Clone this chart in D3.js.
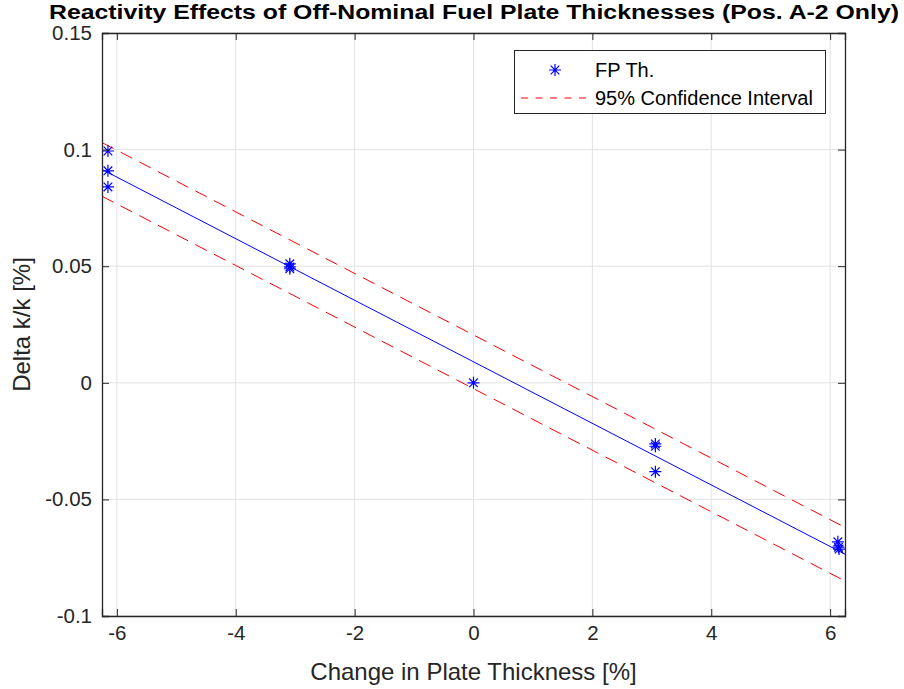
<!DOCTYPE html>
<html><head><meta charset="utf-8">
<script src="https://cdn.jsdelivr.net/npm/d3@7"></script>
<style>body{margin:0;background:#fff}svg{display:block}text{font-family:Arial,"Liberation Sans",Helvetica,sans-serif}</style>
</head><body>
<svg id="c" width="904" height="689"></svg>
<script>
const xTicks = [-6, -4, -2, 0, 2, 4, 6];
const xTickLabels = ["-6", "-4", "-2", "0", "2", "4", "6"];
const yTicks = [-0.1, -0.05, 0, 0.05, 0.1, 0.15];
const yTickLabels = ["-0.1", "-0.05", "0", "0.05", "0.1", "0.15"];
const ptX = [-6.15, -6.15, -6.15, -3.09, -3.09, -3.09, 0, 3.06, 3.06, 3.06, 6.13, 6.14, 6.15];
const ptY = [0.0994, 0.0909, 0.0840, 0.0510, 0.0497, 0.0489, 0, -0.0262, -0.0272, -0.0381, -0.0682, -0.0705, -0.0713];
const lineX = [-6.25, 6.25];
const fitY = [0.0915, -0.0735];
const upperY = [0.1030, -0.0620];
const lowerY = [0.0800, -0.0850];
const titleText = "Reactivity Effects of Off-Nominal Fuel Plate Thicknesses (Pos. A-2 Only)";
const xLabel = "Change in Plate Thickness [%]";
const yLabel = "Delta k/k [%]";
const legendLabels = ["FP Th.", "95% Confidence Interval"];

const L = 102, R = 845, T = 33, B = 616;
const svg = d3.select("#c");
const x = d3.scaleLinear().domain([-6.25, 6.25]).range([L, R]);
const y = d3.scaleLinear().domain([-0.1, 0.15]).range([B, T]);
const axisCol = "#262626";

// grid
const g = svg.append("g");
g.selectAll(".gx").data(xTicks).enter().append("line")
  .attr("x1", d => x(d)).attr("x2", d => x(d)).attr("y1", T).attr("y2", B)
  .attr("stroke", "#e3e3e3").attr("stroke-width", 1);
g.selectAll(".gy").data(yTicks).enter().append("line")
  .attr("y1", d => y(d)).attr("y2", d => y(d)).attr("x1", L).attr("x2", R)
  .attr("stroke", "#e3e3e3").attr("stroke-width", 1);

// lines
svg.append("clipPath").attr("id", "cp").append("rect")
  .attr("x", L).attr("y", T).attr("width", R - L).attr("height", B - T);
const plot = svg.append("g").attr("clip-path", "url(#cp)");
const ln = d3.line().x((d, i) => x(lineX[i])).y(d => y(d));
plot.append("path").attr("d", ln(fitY)).attr("fill", "none").attr("stroke", "#0000ff").attr("stroke-width", 1);
[upperY, lowerY].forEach(arr => {
  plot.append("path").attr("d", ln(arr)).attr("fill", "none").attr("stroke", "#ff0000")
    .attr("stroke-width", 1).attr("stroke-dasharray", "13,8");
});

// star markers
function star(s) {
  const d = s * 0.72;
  return `M${-s},0L${s},0M0,${-s}L0,${s}M${-d},${-d}L${d},${d}M${-d},${d}L${d},${-d}`;
}
svg.append("g").selectAll("path").data(ptX).enter().append("path")
  .attr("transform", (d, i) => `translate(${x(d)},${y(ptY[i])})`)
  .attr("d", star(6)).attr("stroke", "#0000ff").attr("stroke-width", 1.2).attr("fill", "none");

// axes: bottom, left, top, right with inward ticks
const xb = svg.append("g").attr("transform", `translate(0,${B})`)
  .call(d3.axisBottom(x).tickValues(xTicks).tickSize(-7).tickPadding(9).tickFormat((d, i) => xTickLabels[i]));
const xt = svg.append("g").attr("transform", `translate(0,${T})`)
  .call(d3.axisTop(x).tickValues(xTicks).tickSize(-7).tickFormat(""));
const yl = svg.append("g").attr("transform", `translate(${L},0)`)
  .call(d3.axisLeft(y).tickValues(yTicks).tickSize(-7).tickPadding(10).tickFormat((d, i) => yTickLabels[i]));
const yr = svg.append("g").attr("transform", `translate(${R},0)`)
  .call(d3.axisRight(y).tickValues(yTicks).tickSize(-7).tickFormat(""));
[xb, xt, yl, yr].forEach(a => {
  a.select(".domain").attr("stroke", axisCol).attr("stroke-width", 1.3);
  a.selectAll(".tick line").attr("stroke", axisCol).attr("stroke-width", 1);
  a.selectAll("text").attr("fill", axisCol).style("font-size", "20.5px").style("font-family", "Arial, 'Liberation Sans', sans-serif");
});
xb.selectAll("text").attr("dy", "0.71em");

// labels
svg.append("text").attr("x", (L + R) / 2).attr("y", 680).attr("text-anchor", "middle")
  .attr("fill", axisCol).style("font-size", "24px").text(xLabel);
svg.append("text").attr("transform", `translate(30,${(T + B) / 2}) rotate(-90)`).attr("text-anchor", "middle")
  .attr("fill", axisCol).style("font-size", "24px").text(yLabel);
svg.append("text").attr("x", 474).attr("y", 19).attr("text-anchor", "middle")
  .attr("fill", "#000").style("font-size", "20px").style("font-weight", "bold")
  .attr("textLength", 850).attr("lengthAdjust", "spacingAndGlyphs").text(titleText);

// legend
const lg = svg.append("g");
lg.append("rect").attr("x", 514.5).attr("y", 50.5).attr("width", 311).attr("height", 63)
  .attr("fill", "#fff").attr("stroke", axisCol).attr("stroke-width", 1);
lg.append("path").attr("transform", "translate(555,70)").attr("d", star(6))
  .attr("stroke", "#0000ff").attr("stroke-width", 1.2).attr("fill", "none");
lg.append("line").attr("x1", 521).attr("x2", 590).attr("y1", 98).attr("y2", 98)
  .attr("stroke", "#ff0000").attr("stroke-width", 1).attr("stroke-dasharray", "7,7.5");
lg.selectAll("text.lt").data(legendLabels).enter().append("text")
  .attr("x", 595).attr("y", (d, i) => 70 + i * 28).attr("dy", "0.35em")
  .attr("fill", "#000").style("font-size", "20px").text(d => d);
</script>
</body></html>
